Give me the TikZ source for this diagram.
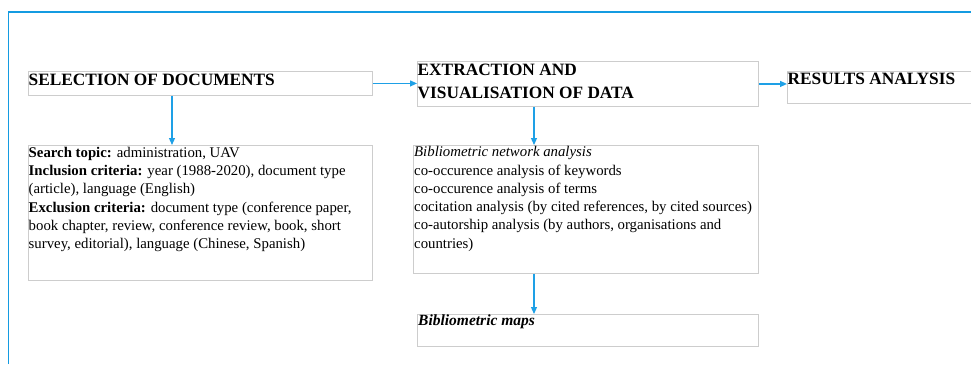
\documentclass[tikz,border=0pt]{standalone}
\usepackage{fontspec}
\setmainfont{Liberation Serif}
\usetikzlibrary{positioning, calc}
\usetikzlibrary{arrows.meta}

\begin{document}
\begin{tikzpicture}[x=1pt,y=-1pt]
\definecolor{frameblue}{RGB}{20,155,225};
\definecolor{arrowblue}{RGB}{30,160,230};
\definecolor{boxgray}{RGB}{205,205,205};
\tikzset{stage/.style={draw=boxgray, line width=0.9pt, inner sep=0pt, anchor=north west},
         head/.style={anchor=base west, inner sep=0pt, align=left,
                      font=\fontsize{17.3}{23}\selectfont\bfseries},
         body/.style={anchor=base west, inner sep=0pt, align=left,
                      font=\fontsize{14.8}{18.3}\selectfont},
         flow/.style={draw=arrowblue, line width=1.2pt,
                      -{Triangle[length=7pt,width=6pt]}}}
\useasboundingbox (0,0) rectangle (971,364);
\draw [frameblue, line width=1.3pt] (8.7,364) -- (8.7,12) -- (971,12);

% top row (base anchor of a multi-line node sits on its last line)
\node [stage, minimum width=344pt, minimum height=24pt] (sel) at (28,71) {};
\node [stage, minimum width=341pt, minimum height=45pt] (ext) at (417,61) {};
\node [stage, minimum width=190pt, minimum height=32pt] (res) at (787,71) {};
\node [head] (selT) at ($(sel.north west)+(0.5,14)$) {SELECTION OF DOCUMENTS};
\node [head] (extT) at ($(ext.north west)+(0.5,37)$) {EXTRACTION AND\\VISUALISATION OF DATA};
\node [head] (resT) at ($(res.north west)+(0.5,13)$) {RESULTS ANALYSIS};

% lower boxes
\node [stage, minimum width=344pt, minimum height=135pt] (crit) at (28,145) {};
\node [stage, minimum width=345pt, minimum height=128pt] (net) at (413,145) {};
\node [stage, minimum width=341pt, minimum height=32pt] (maps) at (417,314) {};
\node [body] (critT) at ($(crit.north west)+(0.5,103.8)$) {%
  \textbf{Search topic:} administration, UAV\\
  \textbf{Inclusion criteria:} year (1988-2020), document type\\
  (article), language (English)\\
  \textbf{Exclusion criteria:} document type (conference paper,\\
  book chapter, review, conference review, book, short\\
  survey, editorial), language (Chinese, Spanish)};
\node [body] (netT) at ($(net.north west)+(1,103.2)$) {%
  \textit{Bibliometric network analysis}\\
  co-occurence analysis of keywords\\
  co-occurence analysis of terms\\
  cocitation analysis (by cited references, by cited sources)\\
  co-autorship analysis (by authors, organisations and\\
  countries)};
\node [body, font=\fontsize{15.5}{18}\selectfont\bfseries\itshape] (mapsT)
  at ($(maps.north west)+(1,11)$) {Bibliometric maps};

\coordinate (selDown) at ($(sel.south west)+(144,0)$);
\coordinate (extDown) at ($(ext.south west)+(117,0)$);
\draw [flow] (sel.east) -- (sel.east -| ext.west);
\draw [flow] (ext.east) -- (ext.east -| res.west);
\draw [flow] (selDown) -- (selDown |- crit.north);
\draw [flow] (extDown) -- (extDown |- net.north);
\draw [flow] (extDown |- net.south) -- (extDown |- maps.north);

\end{tikzpicture}
\end{document}
